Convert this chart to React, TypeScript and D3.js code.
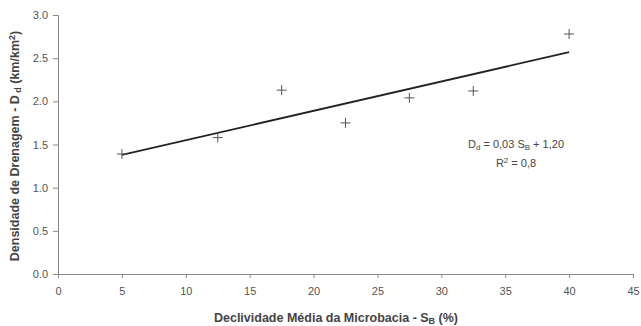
import { useEffect, useRef } from "react"
import * as d3 from "d3"

const slopeX = [5, 12.5, 17.5, 22.5, 27.5, 32.5, 40]
const density = [1.39, 1.58, 2.13, 1.75, 2.04, 2.12, 2.78]
const trendX = [5, 40]
const trendY = [1.38, 2.57]
const xTicks = [0, 5, 10, 15, 20, 25, 30, 35, 40, 45]
const yTicks = [0, 0.5, 1, 1.5, 2, 2.5, 3]

export default function App() {
  const ref = useRef<SVGSVGElement | null>(null)

  useEffect(() => {
    const svg = d3.select(ref.current)
    svg.selectAll("*").remove()

    const width = 641
    const height = 326
    const margin = { top: 15, right: 8, bottom: 52, left: 58 }
    const font = "'Liberation Sans', Arial, sans-serif"
    const grey = "#555"

    const x = d3.scaleLinear().domain([0, 45]).range([margin.left, width - margin.right])
    const y = d3.scaleLinear().domain([0, 3]).range([height - margin.bottom, margin.top])

    svg.attr("width", width).attr("height", height)
      .style("font-family", font)

    // X axis
    const xAxis = svg.append("g")
      .attr("transform", `translate(0,${height - margin.bottom})`)
      .call(d3.axisBottom(x).tickValues(xTicks).tickSize(4).tickPadding(9).tickFormat(d3.format("d")))
    xAxis.selectAll("text").style("fill", grey).style("font-size", "11px").style("font-family", font)
    xAxis.selectAll("path, line").style("stroke", "#888")

    // Y axis
    const yAxis = svg.append("g")
      .attr("transform", `translate(${margin.left},0)`)
      .call(d3.axisLeft(y).tickValues(yTicks).tickSize(5).tickPadding(5).tickFormat(d3.format(".1f")))
    yAxis.selectAll("text").style("fill", grey).style("font-size", "11px").style("font-family", font)
    yAxis.selectAll("path, line").style("stroke", "#888")

    // trend line
    const line = d3.line<number>().x((d, i) => x(trendX[i])).y(d => y(d))
    svg.append("path")
      .attr("d", line(trendY))
      .attr("fill", "none")
      .attr("stroke", "#222")
      .attr("stroke-width", 1.8)

    // points as plus markers
    const s = 5
    const pts = svg.append("g").selectAll("g")
      .data(density)
      .enter()
      .append("g")
      .attr("transform", (d, i) => `translate(${x(slopeX[i])},${y(d)})`)
    pts.append("line").attr("x1", -s).attr("x2", s).attr("stroke", grey).attr("stroke-width", 1)
    pts.append("line").attr("y1", -s).attr("y2", s).attr("stroke", grey).attr("stroke-width", 1)

    // equation
    const eq = svg.append("text")
      .attr("x", 516).attr("y", 148)
      .attr("text-anchor", "middle")
      .style("font-size", "11px").style("fill", "#444")
    eq.append("tspan").text("D")
    eq.append("tspan").attr("dy", 2).style("font-size", "8px").text("d")
    eq.append("tspan").attr("dy", -2).text(" = 0,03 S")
    eq.append("tspan").attr("dy", 2).style("font-size", "8px").text("B")
    eq.append("tspan").attr("dy", -2).text(" + 1,20")

    const r2 = svg.append("text")
      .attr("x", 516).attr("y", 167)
      .attr("text-anchor", "middle")
      .style("font-size", "11px").style("fill", "#444")
    r2.append("tspan").text("R")
    r2.append("tspan").attr("dy", -4).style("font-size", "8px").text("2")
    r2.append("tspan").attr("dy", 4).text(" = 0,8")

    // x title
    const xt = svg.append("text")
      .attr("x", 336).attr("y", 322)
      .attr("text-anchor", "middle")
      .style("font-size", "12.5px").style("font-weight", "bold").style("fill", "#444")
    xt.append("tspan").text("Declividade Média da Microbacia - S")
    xt.append("tspan").attr("dy", 2).style("font-size", "9px").text("B")
    xt.append("tspan").attr("dy", -2).text(" (%)")

    // y title
    const yt = svg.append("text")
      .attr("transform", `translate(19,146) rotate(-90)`)
      .attr("text-anchor", "middle")
      .style("font-size", "12.5px").style("font-weight", "bold").style("fill", "#444")
    yt.append("tspan").text("Densidade de Drenagem - D")
    yt.append("tspan").attr("dy", 2).style("font-size", "9px").text(" d")
    yt.append("tspan").attr("dy", -2).text(" (km/km")
    yt.append("tspan").attr("dy", -4).style("font-size", "9px").text("2")
    yt.append("tspan").attr("dy", 4).text(")")
  }, [])

  return <svg ref={ref} style={{ position: "absolute", left: 0, top: 0 }} />
}
